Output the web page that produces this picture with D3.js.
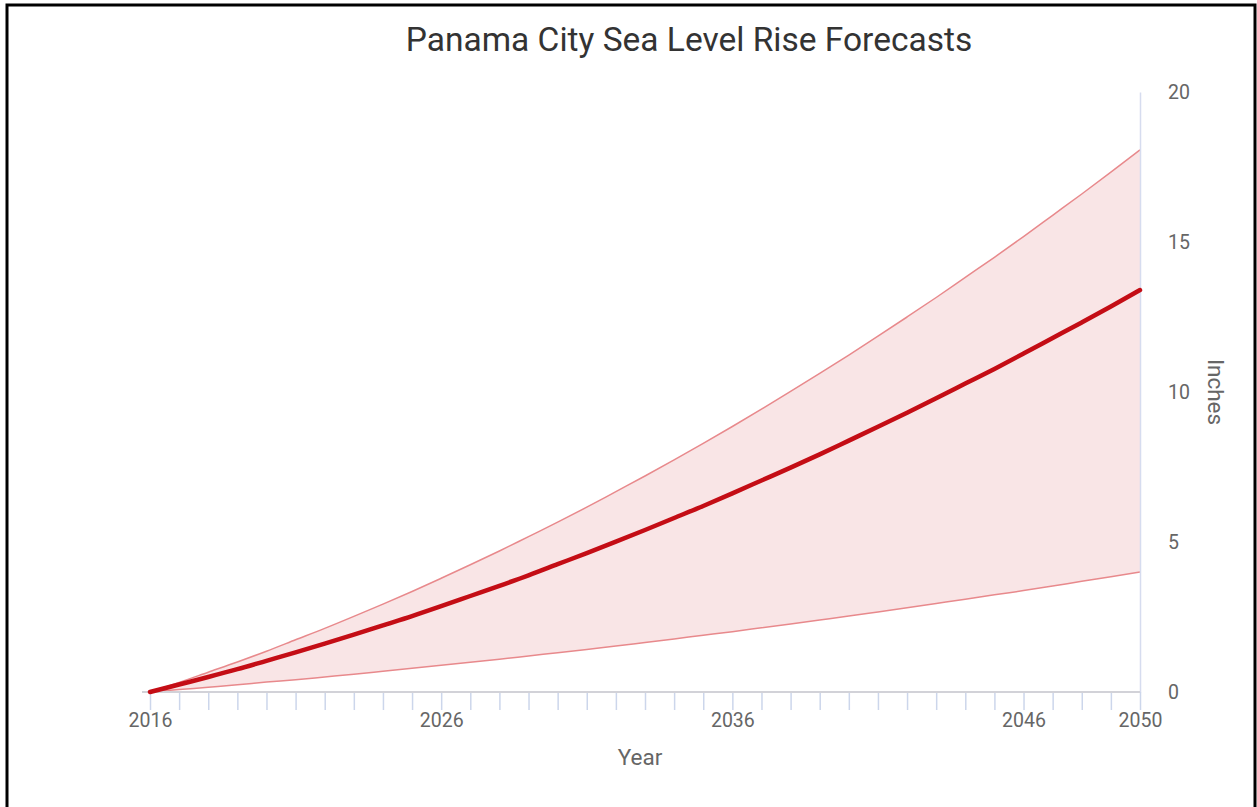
<!DOCTYPE html>
<html><head><meta charset="utf-8">
<script src="https://cdn.jsdelivr.net/npm/d3@7"></script>
<style>body{margin:0;background:#fff;font-family:Roboto,"Noto Sans",sans-serif;}</style>
</head><body>
<svg id="c" width="1257" height="807"></svg>
<script>
const years = d3.range(2016, 2051);
const midValues = [0,0.25,0.50,0.76,1.04,1.32,1.61,1.91,2.22,2.53,2.86,3.20,3.54,3.89,4.26,4.63,5.01,5.40,5.80,6.20,6.62,7.05,7.48,7.92,8.38,8.84,9.31,9.79,10.28,10.77,11.28,11.80,12.32,12.85,13.40];
const highValues = [0,0.32,0.66,1.00,1.36,1.74,2.12,2.52,2.93,3.35,3.79,4.24,4.70,5.18,5.66,6.16,6.68,7.20,7.74,8.29,8.85,9.43,10.02,10.62,11.23,11.86,12.50,13.15,13.82,14.49,15.18,15.89,16.60,17.33,18.07];
const lowValues = [0,0.08,0.16,0.24,0.33,0.41,0.50,0.59,0.69,0.79,0.89,0.99,1.09,1.20,1.31,1.42,1.53,1.65,1.77,1.89,2.01,2.14,2.27,2.40,2.53,2.67,2.81,2.95,3.09,3.24,3.38,3.53,3.69,3.84,4.00];
const xTickLabels = [2016, 2026, 2036, 2046, 2050];
const yTickLabels = [0, 5, 10, 15, 20];

const svg = d3.select("#c");
const L = 150, R = 1140, T = 92, B = 692;
const x = d3.scaleLinear().domain([2016, 2050]).range([L, R]);
const y = d3.scaleLinear().domain([0, 20]).range([B, T]);

// frame
svg.append("rect").attr("x", 7).attr("y", 5).attr("width", 1248).attr("height", 812)
  .attr("fill", "none").attr("stroke", "#000").attr("stroke-width", 3);

// title
svg.append("text").attr("x", 689).attr("y", 51).attr("text-anchor", "middle")
  .attr("font-size", 33.5).attr("fill", "#333").text("Panama City Sea Level Rise Forecasts");

const data = years.map((yr, i) => ({yr, lo: lowValues[i], hi: highValues[i], mid: midValues[i]}));

// range area
svg.append("path").datum(data)
  .attr("d", d3.area().x(d => x(d.yr)).y0(d => y(d.lo)).y1(d => y(d.hi)).curve(d3.curveMonotoneX))
  .attr("fill", "#f9e5e6");
svg.append("path").datum(data)
  .attr("d", d3.line().x(d => x(d.yr)).y(d => y(d.hi)).curve(d3.curveMonotoneX))
  .attr("fill", "none").attr("stroke", "#e8898c").attr("stroke-width", 1.5);
svg.append("path").datum(data)
  .attr("d", d3.line().x(d => x(d.yr)).y(d => y(d.lo)).curve(d3.curveMonotoneX))
  .attr("fill", "none").attr("stroke", "#e8898c").attr("stroke-width", 1.5);

// y axis (right)
const yAxis = svg.append("g").attr("transform", `translate(${R},0)`)
  .call(d3.axisRight(y).tickValues(yTickLabels).tickSize(0).tickPadding(28).tickFormat(d3.format("d")));
yAxis.select(".domain").attr("stroke", "#d6dcef").attr("stroke-width", 1.5);
yAxis.selectAll("text").attr("font-size", 19.5).attr("fill", "#666").attr("font-family", "Roboto");

// x axis minor ticks
const xMinor = svg.append("g").attr("transform", `translate(0,${B})`)
  .call(d3.axisBottom(x).tickValues(years).tickSize(18).tickFormat(""));
xMinor.select(".domain").remove();
xMinor.selectAll("line").attr("stroke", "#ccd6eb").attr("stroke-width", 1.5);

// x axis labels + line
const xAxis = svg.append("g").attr("transform", `translate(0,${B})`)
  .call(d3.axisBottom(x).tickValues(xTickLabels).tickSize(0).tickPadding(21).tickFormat(d3.format("d")));
xAxis.select(".domain").attr("stroke", "#d2d2d8").attr("stroke-width", 2).attr("d", `M${L-8},0H${R}`);
xAxis.selectAll("text").attr("font-size", 19.5).attr("fill", "#666").attr("font-family", "Roboto");

// mid line
svg.append("path").datum(data)
  .attr("d", d3.line().x(d => x(d.yr)).y(d => y(d.mid)).curve(d3.curveMonotoneX))
  .attr("fill", "none").attr("stroke", "#c40d15").attr("stroke-width", 4.5).attr("stroke-linecap", "round");

// axis titles
svg.append("text").attr("x", 640).attr("y", 765).attr("text-anchor", "middle")
  .attr("font-size", 22.5).attr("fill", "#666").text("Year");
svg.append("text").attr("transform", "translate(1208,392) rotate(90)").attr("text-anchor", "middle")
  .attr("font-size", 22.5).attr("fill", "#666").text("Inches");
</script>
</body></html>
